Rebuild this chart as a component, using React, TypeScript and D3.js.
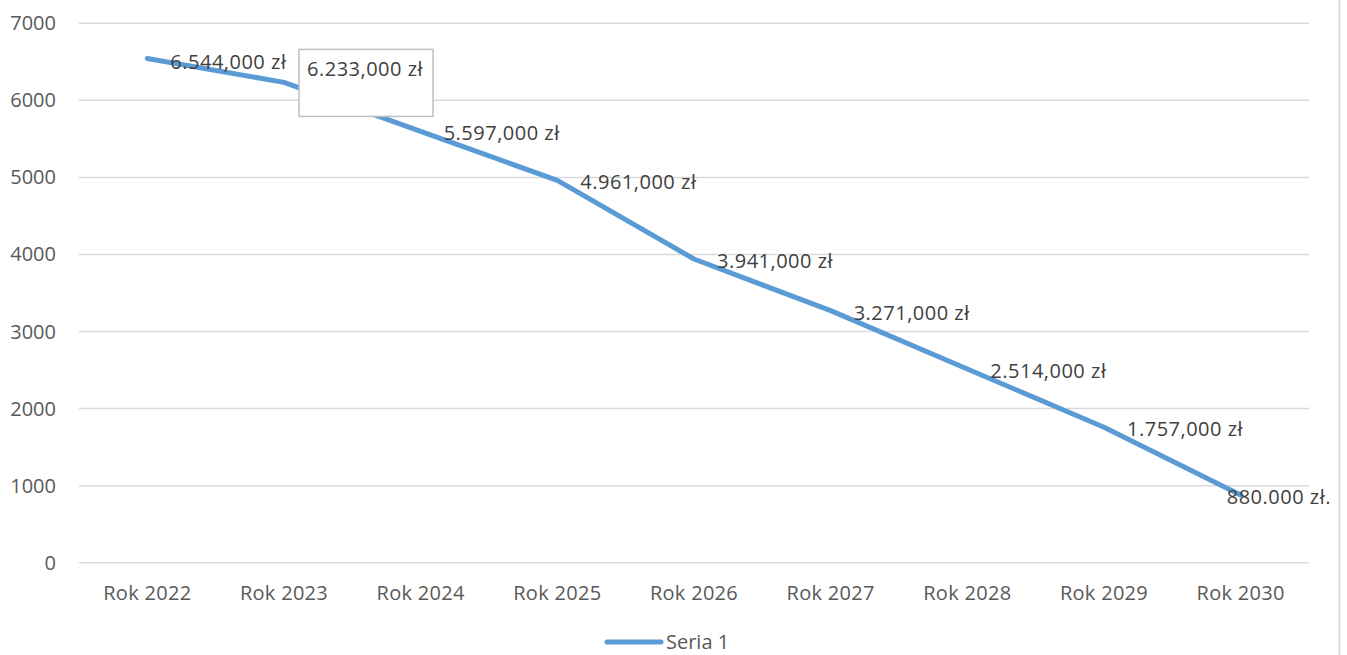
import React from "react";
import * as d3 from "d3";

const categories = ["Rok 2022", "Rok 2023", "Rok 2024", "Rok 2025", "Rok 2026", "Rok 2027", "Rok 2028", "Rok 2029", "Rok 2030"];
const values = [6544, 6233, 5597, 4961, 3941, 3271, 2514, 1757, 880];
const labels = ["6.544,000 zł", "6.233,000 zł", "5.597,000 zł", "4.961,000 zł", "3.941,000 zł", "3.271,000 zł", "2.514,000 zł", "1.757,000 zł", "880.000 zł."];
const yTicks = [0, 1000, 2000, 3000, 4000, 5000, 6000, 7000];
const seriesName = "Seria 1";

const W = 1347;
const H = 655;
const FONT = "'Open Sans', sans-serif";
const FS = 20;

export default function App() {
  const x = d3.scaleBand<string>().domain(categories).range([79, 1309]);
  const y = d3.scaleLinear().domain([0, 7000]).range([562.7, 23.3]);
  const cx = (c: string) => (x(c) as number) + x.bandwidth() / 2;
  const line = d3
    .line<number>()
    .x((_, i) => cx(categories[i]))
    .y((d) => y(d));

  return (
    <svg
      width={W}
      height={H}
      style={{ position: "fixed", left: 0, top: 0, background: "#fff" }}
      fontFamily={FONT}
    >
      <rect x={0} y={0} width={W} height={H} fill="#fff" />
      {/* right border */}
      <line x1={1339.5} x2={1339.5} y1={0} y2={H} stroke="#d9d9d9" strokeWidth={2} />
      {/* gridlines */}
      {yTicks.map((t) => (
        <line key={t} x1={79} x2={1309} y1={y(t)} y2={y(t)} stroke="#d9d9d9" strokeWidth={1.5} />
      ))}
      {/* y tick labels */}
      {yTicks.map((t) => (
        <text key={"yl" + t} x={56} y={y(t)} dy="0.35em" textAnchor="end" fontSize={FS} fill="#595959">
          {t}
        </text>
      ))}
      {/* x tick labels */}
      {categories.map((c) => (
        <text key={c} x={cx(c)} y={593} dy="0.35em" textAnchor="middle" fontSize={FS} fill="#595959" letterSpacing={0.3}>
          {c}
        </text>
      ))}
      {/* series line */}
      <path
        d={line(values) || ""}
        fill="none"
        stroke="#5b9bd5"
        strokeWidth={5}
        strokeLinecap="round"
        strokeLinejoin="round"
      />
      {/* data labels */}
      {values.map((v, i) => {
        const px = cx(categories[i]);
        const py = y(v);
        if (i === 1) {
          return (
            <g key={"dl" + i}>
              <rect x={px + 15} y={py - 33} width={134} height={67} fill="#fff" stroke="#bfbfbf" strokeWidth={1.5} />
              <text x={px + 23} y={py - 13} dy="0.35em" fontSize={FS} fill="#404040" letterSpacing={0.5}>
                {labels[i]}
              </text>
            </g>
          );
        }
        const last = i === values.length - 1;
        return (
          <text
            key={"dl" + i}
            x={last ? 1331 : px + 23}
            y={py + (i === 0 ? 3.5 : 2)}
            dy="0.35em"
            textAnchor={last ? "end" : "start"}
            fontSize={FS}
            fill="#404040"
            letterSpacing={0.5}
          >
            {labels[i]}
          </text>
        );
      })}
      {/* legend */}
      <line x1={607} x2={661} y1={642} y2={642} stroke="#5b9bd5" strokeWidth={5} strokeLinecap="round" />
      <text x={666} y={642} dy="0.35em" fontSize={FS} fill="#595959">
        {seriesName}
      </text>
    </svg>
  );
}
